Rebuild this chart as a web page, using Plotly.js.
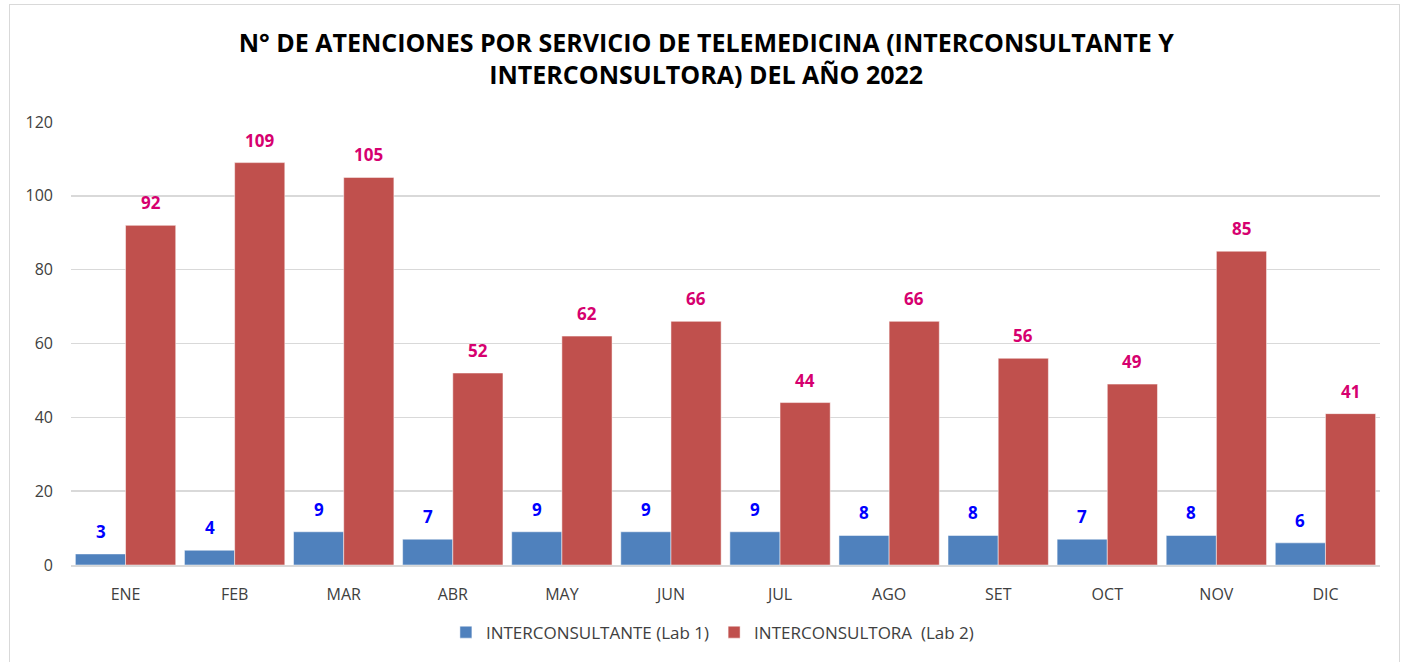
<!DOCTYPE html>
<html><head><meta charset="utf-8">
<script src="https://cdn.plot.ly/plotly-3.0.1.min.js"></script>
<style>
html,body{margin:0;padding:0;background:#fff;}
#frame{position:absolute;left:9px;top:4px;width:1391px;height:670px;border:1.5px solid #D9D9D9;box-sizing:border-box;pointer-events:none;}
#chart{position:absolute;left:0;top:0;width:1404px;height:662px;}
</style></head>
<body>
<div id="chart"></div>
<div id="frame"></div>
<script>
const months = ["ENE","FEB","MAR","ABR","MAY","JUN","JUL","AGO","SET","OCT","NOV","DIC"];
const lab1 = [3,4,9,7,9,9,9,8,8,7,8,6];
const lab2 = [92,109,105,52,62,66,44,66,56,49,85,41];
const name1 = "INTERCONSULTANTE (Lab 1)";
const name2 = "INTERCONSULTORA  (Lab 2)";
const titleText = "N° DE ATENCIONES POR SERVICIO DE TELEMEDICINA (INTERCONSULTANTE Y<br>INTERCONSULTORA) DEL AÑO 2022";

const font = "Open Sans, Liberation Sans, sans-serif";
const traces = [
  {type:"bar", x:months, y:lab1, name:name1, offsetgroup:"a",
   marker:{color:"#4F81BD", line:{color:"#ffffff", width:0.5}}},
  {type:"bar", x:months, y:lab2, name:name2, offsetgroup:"b",
   marker:{color:"#C0504D", line:{color:"#ffffff", width:0.5}}}
];
const annotations = [];
months.forEach((m,i)=>{
  annotations.push({x:m, y:lab1[i], xref:"x", yref:"y", text:"<b>"+lab1[i]+"</b>", showarrow:false,
    yanchor:"bottom", yshift:9, xshift:-25, font:{family:font, size:17, color:"#0000FF"}});
  annotations.push({x:m, y:lab2[i], xref:"x", yref:"y", text:"<b>"+lab2[i]+"</b>", showarrow:false,
    yanchor:"bottom", yshift:9, xshift:25, font:{family:font, size:17, color:"#D6006F"}});
});
const layout = {
  width:1404, height:662,
  paper_bgcolor:"rgba(0,0,0,0)", plot_bgcolor:"#fff",
  margin:{l:71, r:24, t:122, b:96},
  title:{text:"<b>"+titleText+"</b>", x:0.503, xanchor:"center", xref:"container", y:0.922, yanchor:"middle",
    font:{family:font, size:25, color:"#000"}},
  barmode:"group", bargap:0.08, bargroupgap:0,
  xaxis:{type:"category", tickfont:{family:font, size:16, color:"#404040"}, showgrid:false,
    showline:true, linecolor:"#D9D9D9", linewidth:1.5, ticks:"", ticklabelstandoff:14, fixedrange:true},
  yaxis:{range:[0,120], dtick:20, tickfont:{family:font, size:16, color:"#404040"},
    showgrid:true, gridcolor:"#D9D9D9", gridwidth:1.5, zeroline:false, showline:false,
    ticks:"", ticklabelstandoff:17, fixedrange:true},
  legend:{orientation:"h", x:0.49, xanchor:"center", y:-0.15, yanchor:"middle",
    font:{family:font, size:17, color:"#404040"}, itemwidth:30, traceorder:"normal"},
  annotations:annotations,
  showlegend:true
};
Plotly.newPlot("chart", traces, layout, {displayModeBar:false, staticPlot:true});
</script>
</body></html>
